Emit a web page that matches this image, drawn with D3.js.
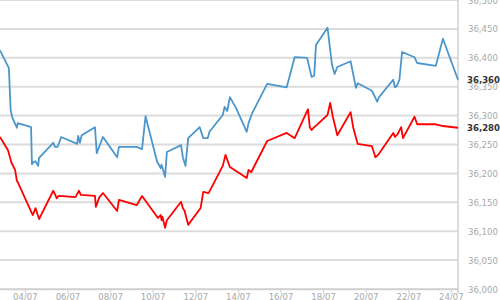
<!DOCTYPE html>
<html>
<head>
<meta charset="utf-8">
<script src="https://cdn.jsdelivr.net/npm/d3@7"></script>
<style>
  body { margin: 0; background: #fff; }
  svg { display: block; }
  .tick-y text, .tick-x text { font-family: "DejaVu Sans Condensed", "DejaVu Sans", sans-serif; fill: #a8a8a8; }
  .last-label { font-family: "DejaVu Sans Condensed", "DejaVu Sans", sans-serif; font-weight: bold; fill: #333; }
</style>
</head>
<body>
<div id="chart"></div>
<script>
// time stamps (month-day hour:min)
var blueDates = ["07-02 20:00","07-03 06:00","07-03 08:00","07-03 10:00","07-03 15:00","07-03 16:00","07-04 07:00","07-04 08:00","07-04 10:00","07-04 12:00",
  "07-04 15:00","07-04 16:00","07-05 08:00","07-05 10:00","07-05 13:00","07-05 17:00","07-06 11:00","07-06 12:00","07-06 14:00","07-06 16:00",
  "07-07 07:00","07-07 09:00","07-07 16:00","07-08 08:00","07-08 10:00","07-09 06:00","07-09 12:00","07-09 16:00","07-10 05:00","07-10 07:00",
  "07-10 09:00","07-10 10:00","07-10 14:00","07-10 16:00","07-11 08:00","07-11 10:00","07-11 13:00","07-11 16:00","07-12 05:00","07-12 09:00",
  "07-12 14:00","07-12 16:00","07-13 07:00","07-13 09:00","07-13 12:00","07-13 15:00","07-13 22:00","07-14 10:00","07-14 12:00","07-14 16:00",
  "07-15 09:00","07-16 07:00","07-16 16:00","07-17 06:00","07-17 11:00","07-17 14:00","07-17 16:00","07-18 05:00","07-18 10:00","07-18 13:00",
  "07-18 16:00","07-19 07:00","07-19 13:00","07-19 15:00","07-20 07:00","07-20 13:00","07-20 15:00","07-21 07:00","07-21 09:00","07-21 11:00",
  "07-21 14:00","07-21 17:00","07-22 07:00","07-22 10:00","07-23 07:00","07-23 15:00","07-24 08:00"];
var blueValues = [36413,36382,36310,36296,36279,36287,36280,36216,36220,36221,
  36213,36227,36253,36246,36246,36263,36251,36265,36253,36266,
  36280,36235,36263,36228,36246,36246,36242,36299,36220,36215,
  36209,36215,36194,36237,36249,36228,36213,36261,36280,36261,
  36261,36272,36301,36315,36308,36332,36313,36272,36287,36304,
  36355,36349,36401,36400,36367,36369,36422,36452,36388,36372,
  36384,36394,36348,36356,36343,36324,36332,36362,36349,36351,
  36362,36410,36401,36391,36386,36433,36362];

var redDates = ["07-02 20:00","07-03 05:00","07-03 09:00","07-03 13:00","07-03 15:00","07-03 16:00","07-04 08:00","07-04 09:00","07-04 12:00","07-04 16:00",
  "07-05 08:00","07-05 12:00","07-05 14:00","07-06 09:00","07-06 13:00","07-06 15:00","07-07 07:00","07-07 08:00","07-07 12:00","07-07 16:00",
  "07-08 08:00","07-08 10:00","07-09 06:00","07-09 12:00","07-10 06:00","07-10 09:00","07-10 10:00","07-10 11:00","07-10 14:00","07-10 16:00",
  "07-11 08:00","07-11 10:00","07-11 12:00","07-11 16:00","07-12 06:00","07-12 09:00","07-12 15:00","07-13 07:00","07-13 10:00","07-13 15:00",
  "07-14 10:00","07-14 12:00","07-14 15:00","07-15 09:00","07-16 07:00","07-16 16:00","07-17 07:00","07-17 09:00","07-17 11:00","07-17 14:00",
  "07-17 17:00","07-18 05:00","07-18 08:00","07-18 11:00","07-18 16:00","07-19 07:00","07-19 10:00","07-19 15:00","07-20 07:00","07-20 11:00",
  "07-20 14:00","07-21 07:00","07-21 09:00","07-21 12:00","07-21 16:00","07-21 18:00","07-22 07:00","07-22 10:00","07-23 07:00","07-23 15:00",
  "07-24 08:00"];
var redValues = [36263,36240,36218,36206,36187,36185,36131,36128,36140,36121,
  36170,36157,36161,36159,36170,36163,36161,36142,36159,36166,
  36135,36154,36145,36161,36123,36128,36119,36125,36106,36119,
  36151,36140,36135,36111,36140,36168,36166,36213,36232,36211,
  36192,36206,36202,36256,36270,36261,36311,36280,36275,36280,
  36284,36301,36322,36298,36266,36306,36279,36251,36247,36228,
  36232,36270,36263,36268,36280,36261,36298,36285,36285,36282,
  36279];

var xTicks = ["04/07","06/07","08/07","10/07","12/07","14/07","16/07","18/07","20/07","22/07","24/07"];
var yTicks = [36000,36050,36100,36150,36200,36250,36300,36350,36400,36450,36500];

var W = 500, H = 300, plotW = 458, plotH = 289;
var parse = d3.timeParse("%m-%d %H:%M");
var parseTick = d3.timeParse("%d/%m");

var blue = blueDates.map(function(d,i){ return {date: parse(d), v: blueValues[i]}; });
var red = redDates.map(function(d,i){ return {date: parse(d), v: redValues[i]}; });

var x = d3.scaleTime()
    .domain(d3.extent(blue, function(d){ return d.date; }))
    .range([0, plotW]);
var y = d3.scaleLinear()
    .domain([36000, 36500])
    .range([plotH, 0]);

var svg = d3.select("#chart").append("svg")
    .attr("width", W)
    .attr("height", H);

// horizontal grid
svg.append("g").selectAll("line")
  .data(yTicks)
  .enter().append("line")
    .attr("x1", 0).attr("x2", plotW)
    .attr("y1", function(d){ return y(d); })
    .attr("y2", function(d){ return y(d); })
    .attr("stroke", "#dcdcdc")
    .attr("stroke-width", 2);

// right border
svg.append("line")
  .attr("x1", plotW).attr("x2", plotW)
  .attr("y1", 0).attr("y2", plotH + 4)
  .attr("stroke", "#d0d0d0").attr("stroke-width", 1.5);

// y axis labels on the right
var yAxis = d3.axisRight(y).tickValues(yTicks).tickSize(0).tickPadding(10)
    .tickFormat(d3.format(","));
svg.append("g").attr("class", "tick-y")
  .attr("transform", "translate(" + plotW + ",0)")
  .call(yAxis)
  .call(function(g){ g.select(".domain").remove(); })
  .selectAll("text").attr("font-size", 9.5);

// x axis
var xAxis = d3.axisBottom(x)
    .tickValues(xTicks.map(function(t){ return parseTick(t); }).map(function(d){ d.setFullYear(1900); return d; }))
    .tickFormat(d3.timeFormat("%d/%m"))
    .tickSizeInner(4).tickSizeOuter(0).tickPadding(0);
var gx = svg.append("g").attr("class", "tick-x")
  .attr("transform", "translate(0," + plotH + ")")
  .call(xAxis);
gx.select(".domain").attr("stroke", "#d0d0d0").attr("stroke-width", 1.5);
gx.selectAll(".tick line").attr("stroke", "#d0d0d0");
gx.selectAll("text").attr("font-size", 9.5).attr("y", 4);

var line = d3.line()
    .x(function(d){ return x(d.date); })
    .y(function(d){ return y(d.v); });

svg.append("path").datum(red)
  .attr("fill", "none").attr("stroke", "#ff0000").attr("stroke-width", 1.8)
  .attr("stroke-linejoin", "round")
  .attr("d", line);
svg.append("path").datum(blue)
  .attr("fill", "none").attr("stroke", "#4b97cb").attr("stroke-width", 1.8)
  .attr("stroke-linejoin", "round")
  .attr("d", line);

// last value labels
var fmt = d3.format(",");
svg.selectAll(".last-label")
  .data([blue[blue.length-1], red[red.length-1]])
  .enter().append("text")
    .attr("class", "last-label")
    .attr("x", plotW + 9)
    .attr("y", function(d){ return y(d.v); })
    .attr("dy", "0.35em")
    .attr("font-size", 9.5)
    .text(function(d){ return fmt(Math.round(d.v / 10) * 10); });
</script>
</body>
</html>
